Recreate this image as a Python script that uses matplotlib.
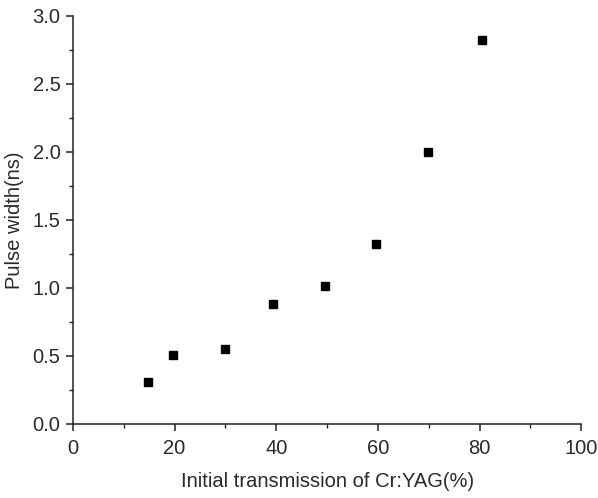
import matplotlib
matplotlib.use("Agg")
import matplotlib.pyplot as plt
from matplotlib.ticker import MultipleLocator

plt.rcParams["font.family"] = ["Liberation Sans", "DejaVu Sans"]

# ── data ─────────────────────────────────────────────────────────────────────
transmission = [14.8, 19.7, 29.9, 39.4, 49.6, 59.6, 69.8, 80.4]   # %
pulse_width = [0.31, 0.505, 0.55, 0.88, 1.01, 1.32, 2.00, 2.82]   # ns

x_label = "Initial transmission of Cr:YAG(%)"
y_label = "Pulse width(ns)"

fig = plt.figure(figsize=(5.98, 4.98), dpi=100)
ax = fig.add_axes([0.122, 0.149, 0.850, 0.819])

ax.plot(transmission, pulse_width, linestyle="none", marker="s",
        markersize=6, color="black")

ax.set_xlim(0, 100)
ax.set_ylim(0, 3.0)
ax.xaxis.set_major_locator(MultipleLocator(20))
ax.xaxis.set_minor_locator(MultipleLocator(10))
ax.yaxis.set_major_locator(MultipleLocator(0.5))
ax.yaxis.set_minor_locator(MultipleLocator(0.25))
ax.yaxis.set_major_formatter(plt.FormatStrFormatter("%.1f"))

for side in ("top", "right"):
    ax.spines[side].set_visible(False)
for side in ("left", "bottom"):
    ax.spines[side].set_linewidth(1.1)
    ax.spines[side].set_color("#222222")

ax.tick_params(which="major", direction="out", length=5, width=1.1,
               labelsize=14.5, colors="#222222", labelcolor="#2a2a2a")
ax.tick_params(axis="x", which="major", pad=6)
ax.tick_params(axis="y", which="major", pad=4)
ax.tick_params(which="minor", direction="out", length=3, width=1.0,
               colors="#222222")

ax.set_xlabel(x_label, fontsize=14.5, color="#2a2a2a", labelpad=10)
ax.set_ylabel(y_label, fontsize=14.5, color="#2a2a2a", labelpad=6)

fig.savefig("out.png", dpi=100)
